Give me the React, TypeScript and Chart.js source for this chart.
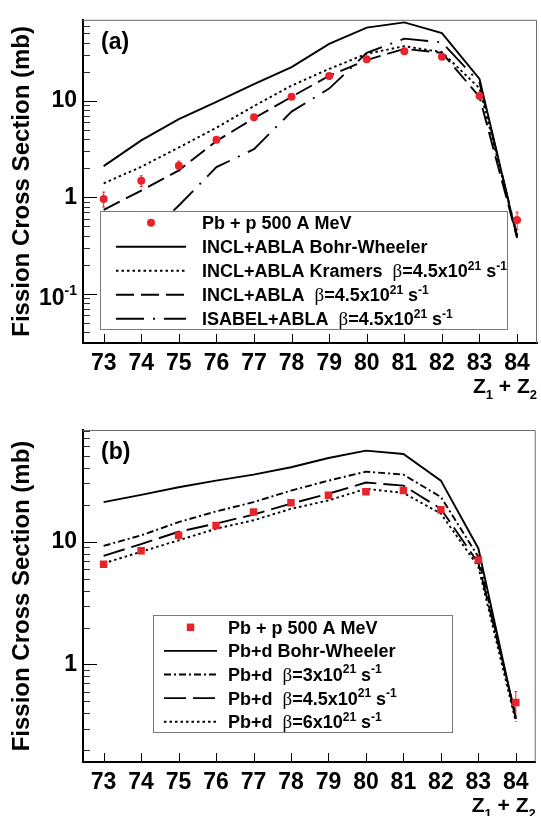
import React, { useEffect, useRef } from 'react';
import { Chart, registerables } from 'chart.js';

Chart.register(...registerables);

// ---------- data ----------
const zValues = [73, 74, 75, 76, 77, 78, 79, 80, 81, 82, 83, 84];
const xTickValues = [73, 74, 75, 76, 77, 78, 79, 80, 81, 82, 83, 84];

// panel (a)
const expA = [0.96, 1.48, 2.12, 3.95, 6.76, 11.0, 18.1, 27.0, 32.6, 28.7, 11.2, 0.58];
const errA = [0.17, 0.19, 0.25, 0.25, 0.4, 0.6, 0.9, 1.3, 1.6, 1.4, 0.6, 0.12];
const bohrA = [2.1, 3.89, 6.47, 9.77, 14.9, 22.4, 38.9, 57.5, 65.2, 50.4, 16.9, 0.38];
const kramersA = [1.39, 2.07, 3.28, 5.26, 8.83, 14.4, 21.4, 30.8, 36.9, 32.0, 13.5, 0.4];
const inclA = [0.74, 1.17, 1.9, 3.83, 6.6, 11.0, 18.2, 26.5, 34.6, 31.5, 11.0, 0.38];
const isabelA = [0.15, 0.35, 0.82, 2.05, 3.15, 7.73, 13.4, 31.4, 44.2, 40.4, 15.5, 0.4];
const yTicksA = [0.1, 1, 10];
const yMinA = 0.0307;
const yMaxA = 69.3;

// panel (b)
const expB = [6.56, 8.46, 11.3, 13.6, 17.5, 20.9, 24.0, 25.6, 26.3, 18.3, 7.1, 0.49];
const errB = [0.35, 0.4, 0.5, 0.6, 0.8, 0.9, 1.0, 1.1, 1.1, 0.9, 0.4, 0.11];
const bohrB = [21.1, 24.2, 27.9, 31.6, 35.4, 40.6, 48.3, 55.5, 52.1, 31.6, 8.84, 0.36];
const beta3B = [9.28, 11.3, 14.5, 17.7, 21.1, 26.2, 31.6, 37.4, 35.4, 23.2, 7.56, 0.36];
const beta45B = [7.7, 9.58, 12.1, 14.1, 16.7, 20.5, 24.7, 30.5, 28.8, 18.6, 6.7, 0.38];
const beta6B = [6.68, 8.3, 10.3, 12.8, 15.0, 18.6, 21.8, 27.1, 25.1, 17.0, 6.27, 0.34];
const yTicksB = [1, 10];
const yMinB = 0.16;
const yMaxB = 81.8;

const xMin = 72.45;
const xMax = 84.53;

type Run = [string, string];

const legendTextsA: Run[][] = [
  [['Pb + p 500 A MeV', 'b']],
  [['INCL+ABLA Bohr-Wheeler', 'b']],
  [['INCL+ABLA Kramers  ', 'b'], ['\u03b2', 'g'], ['=4.5x10', 'b'], ['21', 'sup'], [' s', 'b'], ['-1', 'sup']],
  [['INCL+ABLA  ', 'b'], ['\u03b2', 'g'], ['=4.5x10', 'b'], ['21', 'sup'], [' s', 'b'], ['-1', 'sup']],
  [['ISABEL+ABLA  ', 'b'], ['\u03b2', 'g'], ['=4.5x10', 'b'], ['21', 'sup'], [' s', 'b'], ['-1', 'sup']],
];

const legendTextsB: Run[][] = [
  [['Pb + p 500 A MeV', 'b']],
  [['Pb+d Bohr-Wheeler', 'b']],
  [['Pb+d  ', 'b'], ['\u03b2', 'g'], ['=3x10', 'b'], ['21', 'sup'], [' s', 'b'], ['-1', 'sup']],
  [['Pb+d  ', 'b'], ['\u03b2', 'g'], ['=4.5x10', 'b'], ['21', 'sup'], [' s', 'b'], ['-1', 'sup']],
  [['Pb+d  ', 'b'], ['\u03b2', 'g'], ['=6x10', 'b'], ['21', 'sup'], [' s', 'b'], ['-1', 'sup']],
];

const axisTitle = 'Fission Cross Section (mb)';
const xAxisRuns: Run[] = [['Z', 'b'], ['1', 'sub'], [' + ', 'b'], ['Z', 'b'], ['2', 'sub']];

// ---------- styling ----------
const SANS = '"Liberation Sans", Arial, Helvetica, sans-serif';
const RED = '#e8232b';

function runFont(kind: string, size: number) {
  if (kind === 'sup' || kind === 'sub') return `bold ${Math.round(size * 0.64)}px ${SANS}`;
  if (kind === 'g') return `${size + 1}px "Liberation Serif", "DejaVu Serif", serif`;
  return `bold ${size}px ${SANS}`;
}

function runsWidth(ctx: CanvasRenderingContext2D, runs: Run[], size: number) {
  let w = 0;
  for (const [t, k] of runs) {
    ctx.font = runFont(k, size);
    w += ctx.measureText(t).width;
  }
  return w;
}

function drawRuns(ctx: CanvasRenderingContext2D, x: number, y: number, runs: Run[], size: number) {
  ctx.textAlign = 'left';
  ctx.textBaseline = 'alphabetic';
  let cx = x;
  for (const [t, k] of runs) {
    ctx.font = runFont(k, size);
    let dy = 0;
    if (k === 'sup') dy = -size * 0.42;
    if (k === 'sub') dy = size * 0.28;
    ctx.fillText(t, cx, y + dy);
    cx += ctx.measureText(t).width;
  }
  return cx;
}

const decoPlugin = {
  id: 'panelDeco',
  beforeDatasetsDraw(chart: any) {
    const { ctx, scales } = chart;
    const x = scales.x;
    const y = scales.y;
    ctx.save();
    chart.data.datasets.forEach((ds: any) => {
      if (!ds.errors) return;
      ctx.strokeStyle = ds.backgroundColor;
      ctx.lineWidth = 1;
      ds.data.forEach((p: any, i: number) => {
        const e = ds.errors[i];
        const px = x.getPixelForValue(p.x);
        const y1 = y.getPixelForValue(p.y + e);
        const y2 = y.getPixelForValue(Math.max(p.y - e, 1e-6));
        ctx.beginPath();
        ctx.moveTo(px, y1);
        ctx.lineTo(px, y2);
        ctx.moveTo(px - 1.5, y1);
        ctx.lineTo(px + 1.5, y1);
        ctx.moveTo(px - 1.5, y2);
        ctx.lineTo(px + 1.5, y2);
        ctx.stroke();
      });
    });
    ctx.restore();
  },
  afterDraw(chart: any, _args: any, opts: any) {
    const { ctx, chartArea: ca, scales } = chart;
    const x = scales.x;
    const y = scales.y;
    ctx.save();
    // frame (top, right)
    ctx.strokeStyle = '#6a6a6a';
    ctx.lineWidth = 1;
    ctx.beginPath();
    ctx.moveTo(ca.left, ca.top + 0.5);
    ctx.lineTo(ca.right - 0.5, ca.top + 0.5);
    ctx.lineTo(ca.right - 0.5, ca.bottom);
    ctx.stroke();

    // y ticks (inward, log minor)
    const eMin = Math.floor(Math.log10(y.min));
    const eMax = Math.ceil(Math.log10(y.max));
    for (let e = eMin; e <= eMax; e++) {
      for (let m = 1; m <= 9; m++) {
        const v = m * Math.pow(10, e);
        if (v < y.min || v > y.max) continue;
        const py = Math.round(y.getPixelForValue(v)) + 0.5;
        const len = m === 1 ? 14 : 7;
        ctx.strokeStyle = m === 1 ? '#000' : '#333';
        ctx.lineWidth = 1;
        ctx.beginPath();
        ctx.moveTo(ca.left, py);
        ctx.lineTo(ca.left + len, py);
        ctx.stroke();
      }
    }
    // x ticks (inward)
    ctx.strokeStyle = '#000';
    xTickValues.forEach((v) => {
      const px = Math.round(x.getPixelForValue(v)) + 0.5;
      ctx.beginPath();
      ctx.moveTo(px, ca.bottom);
      ctx.lineTo(px, ca.bottom - 9);
      ctx.stroke();
    });

    // exponent tick labels for values below 1
    ctx.fillStyle = '#000';
    (opts.yTicks as number[]).forEach((v) => {
      if (v >= 1) return;
      const ex = Math.round(Math.log10(v));
      const py = y.getPixelForValue(v);
      const right = ca.left - 6;
      ctx.font = `bold 14px ${SANS}`;
      ctx.textAlign = 'right';
      ctx.textBaseline = 'alphabetic';
      const supTxt = String(ex);
      const sw = ctx.measureText(supTxt).width;
      ctx.fillText(supTxt, right, py + 1);
      ctx.font = `bold 23px ${SANS}`;
      ctx.fillText('10', right - sw, py + 11);
    });

    // panel label
    ctx.font = `bold 23px ${SANS}`;
    ctx.textAlign = 'left';
    ctx.textBaseline = 'middle';
    ctx.fillText(opts.label, 101, ca.top + 23);

    // x axis title
    const zw = runsWidth(ctx, xAxisRuns, 21);
    ctx.fillStyle = '#000';
    drawRuns(ctx, ca.right - zw, ca.bottom + 50, xAxisRuns, 21);

    // legend
    const L = opts.legend;
    ctx.fillStyle = '#fff';
    ctx.fillRect(L.x0, L.y0, L.x1 - L.x0, L.y1 - L.y0);
    ctx.strokeStyle = '#7a7a7a';
    ctx.lineWidth = 1;
    ctx.strokeRect(L.x0 + 0.5, L.y0 + 0.5, L.x1 - L.x0 - 1, L.y1 - L.y0 - 1);
    const dsets = chart.data.datasets;
    L.texts.forEach((runs: Run[], i: number) => {
      const cy = L.rowY + i * L.rowH;
      const ds = dsets[i];
      if (ds.showLine === false) {
        ctx.fillStyle = ds.backgroundColor;
        const mx = (L.s0 + L.s1) / 2;
        if (ds.pointStyle === 'rect') {
          const h = ds.pointRadius * Math.SQRT1_2;
          ctx.fillRect(mx - h, cy - h, 2 * h, 2 * h);
        } else {
          ctx.beginPath();
          ctx.arc(mx, cy, ds.pointRadius, 0, Math.PI * 2);
          ctx.fill();
        }
      } else {
        ctx.strokeStyle = ds.borderColor;
        ctx.lineWidth = ds.borderWidth;
        ctx.setLineDash(ds.borderDash || []);
        ctx.beginPath();
        ctx.moveTo(L.s0, cy);
        ctx.lineTo(L.s1, cy);
        ctx.stroke();
        ctx.setLineDash([]);
      }
      ctx.fillStyle = '#000';
      drawRuns(ctx, L.tx, cy + 6.5, runs, L.font);
    });
    ctx.restore();
  },
};

function pts(arr: number[]) {
  return zValues.map((z, i) => ({ x: z, y: arr[i] }));
}

function lineDs(arr: number[], dash: number[]) {
  return {
    data: pts(arr),
    borderColor: '#000',
    backgroundColor: '#000',
    borderWidth: 1.9,
    borderDash: dash,
    pointRadius: 0,
    showLine: true,
    tension: 0,
    fill: false,
  };
}

function pointDs(arr: number[], err: number[], style: string, radius: number) {
  return {
    data: pts(arr),
    errors: err,
    showLine: false,
    pointStyle: style,
    pointRadius: radius,
    backgroundColor: RED,
    borderColor: RED,
    borderWidth: 0,
  };
}

function makeConfig(p: any) {
  return {
    type: 'line',
    data: { datasets: p.datasets },
    plugins: [decoPlugin],
    options: {
      responsive: false,
      animation: false,
      devicePixelRatio: 1,
      layout: { padding: { top: p.top, right: 1, left: 0, bottom: 0 } },
      plugins: {
        legend: { display: false },
        tooltip: { enabled: false },
        panelDeco: { label: p.label, legend: p.legend, yTicks: p.yTicks },
      },
      scales: {
        x: {
          type: 'linear',
          min: xMin,
          max: xMax,
          afterBuildTicks: (s: any) => {
            s.ticks = xTickValues.map((v) => ({ value: v }));
          },
          afterFit: (s: any) => {
            s.height = p.xh;
          },
          grid: { display: false, drawTicks: false },
          border: { display: true, color: '#000', width: 2 },
          ticks: {
            autoSkip: false,
            maxRotation: 0,
            padding: 7,
            color: '#000',
            font: { family: SANS, size: 23, weight: 'bold' },
            callback: (v: any) => String(v),
          },
        },
        y: {
          type: 'logarithmic',
          min: p.yMin,
          max: p.yMax,
          afterBuildTicks: (s: any) => {
            s.ticks = p.yTicks.map((v: number) => ({ value: v }));
          },
          afterFit: (s: any) => {
            s.width = 83;
          },
          grid: { display: false, drawTicks: false },
          border: { display: true, color: '#000', width: 2 },
          ticks: {
            padding: 6,
            color: '#000',
            font: { family: SANS, size: 23, weight: 'bold' },
            callback: (v: any) => (v < 1 ? '' : String(v)),
          },
          title: {
            display: true,
            text: axisTitle,
            color: '#000',
            font: { family: SANS, size: 24, weight: 'bold' },
            padding: { top: 8, bottom: 0 },
          },
        },
      },
    },
  };
}

const panelA = () => ({
  label: '(a)',
  top: 13,
  xh: 57,
  yMin: yMinA,
  yMax: yMaxA,
  yTicks: yTicksA,
  datasets: [
    pointDs(expA, errA, 'circle', 4),
    lineDs(bohrA, []),
    lineDs(kramersA, [2.5, 3]),
    lineDs(inclA, [18, 7]),
    lineDs(isabelA, [28, 9, 2, 9]),
  ],
  legend: {
    x0: 100, x1: 508, y0: 211, y1: 330,
    rowY: 222.7, rowH: 24,
    s0: 116, s1: 186, tx: 202, font: 18,
    texts: legendTextsA,
  },
});

const panelB = () => ({
  label: '(b)',
  top: 30,
  xh: 54,
  yMin: yMinB,
  yMax: yMaxB,
  yTicks: yTicksB,
  datasets: [
    pointDs(expB, errB, 'rect', 5.3),
    lineDs(bohrB, []),
    lineDs(beta3B, [7, 3, 2, 3]),
    lineDs(beta45B, [22, 7]),
    lineDs(beta6B, [2.5, 3]),
  ],
  legend: {
    x0: 153, x1: 453, y0: 215, y1: 333,
    rowY: 227.3, rowH: 23.6,
    s0: 164, s1: 217, tx: 228, font: 18,
    texts: legendTextsB,
  },
});

function Panel({ make, height }: { make: () => any; height: number }) {
  const ref = useRef<HTMLCanvasElement | null>(null);
  useEffect(() => {
    if (!ref.current) return;
    const chart = new Chart(ref.current, makeConfig(make()) as any);
    return () => chart.destroy();
  }, [make]);
  return <canvas ref={ref} width={541} height={height} style={{ display: 'block', width: 541, height }} />;
}

export default function App() {
  return (
    <div style={{ position: 'absolute', left: 0, top: 0, width: 541, height: 816, background: '#fff' }}>
      <Panel make={panelA} height={400} />
      <Panel make={panelB} height={416} />
    </div>
  );
}
